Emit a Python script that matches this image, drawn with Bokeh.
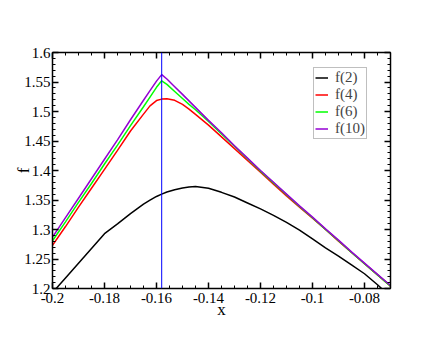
from bokeh.plotting import figure
from bokeh.models import (Range1d, LinearAxis, FixedTicker, CustomJSTickFormatter, Span,
                          Legend, LegendItem, CustomLabelingPolicy)
from bokeh.embed import file_html
from bokeh.resources import INLINE

# ---- data ----
x = [-0.2, -0.195, -0.19, -0.185, -0.18, -0.175, -0.17, -0.165, -0.1625, -0.16,
     -0.158, -0.156, -0.153, -0.15, -0.1475, -0.145, -0.14, -0.135, -0.13, -0.125,
     -0.12, -0.115, -0.11, -0.105, -0.1, -0.095, -0.09, -0.085, -0.08, -0.075, -0.07]

f2 = [1.193, 1.218, 1.243, 1.268, 1.293, 1.3096, 1.327, 1.343, 1.3497, 1.356,
      1.360, 1.3635, 1.3675, 1.3705, 1.372, 1.3728, 1.370, 1.363, 1.355, 1.345,
      1.335, 1.324, 1.312, 1.299, 1.284, 1.269, 1.255, 1.240, 1.225, 1.2064, 1.186]

f4 = [1.273, 1.305, 1.338, 1.370, 1.402, 1.434, 1.467, 1.4955, 1.5095, 1.5185,
      1.521, 1.5215, 1.519, 1.512, 1.504, 1.495, 1.477, 1.457, 1.437, 1.417,
      1.397, 1.377, 1.357, 1.338, 1.319, 1.300, 1.280, 1.261, 1.242, 1.223, 1.204]

f6 = [1.281, 1.313, 1.346, 1.378, 1.411, 1.443, 1.476, 1.508, 1.5245, 1.541,
      1.552, 1.546, 1.534, 1.522, 1.512, 1.503, 1.483, 1.462, 1.441, 1.420,
      1.399, 1.379, 1.359, 1.339, 1.320, 1.300, 1.281, 1.261, 1.242, 1.223, 1.204]

f10 = [1.287, 1.320, 1.353, 1.386, 1.419, 1.452, 1.486, 1.519, 1.5355, 1.5515,
       1.5625, 1.555, 1.542, 1.529, 1.518, 1.507, 1.485, 1.464, 1.442, 1.421,
       1.400, 1.380, 1.360, 1.340, 1.321, 1.301, 1.282, 1.262, 1.243, 1.224, 1.205]

x_line = -0.158

labels = ["f(2)", "f(4)", "f(6)", "f(10)"]
colors = ["#000000", "#ff0000", "#00ff00", "#9400d3"]

x_ticks = [-0.2, -0.18, -0.16, -0.14, -0.12, -0.1, -0.08]
x_minor = [round(-0.2 + 0.005 * k, 4) for k in range(27)]
y_ticks = [1.2, 1.25, 1.3, 1.35, 1.4, 1.45, 1.5, 1.55, 1.6]
y_minor = [round(1.2 + 0.01 * k, 4) for k in range(41)]

FONT = "Liberation Serif"

p = figure(width=432, height=332,
           x_range=Range1d(-0.2, -0.07), y_range=Range1d(1.2, 1.6),
           output_backend="svg", toolbar_location=None,
           min_border_left=52, min_border_right=42,
           min_border_top=52, min_border_bottom=44,
           x_axis_label="x", y_axis_label="f")
p.grid.visible = False
p.outline_line_color = None
p.background_fill_color = "white"
p.border_fill_color = "white"

fmt = CustomJSTickFormatter(code="return Number(tick.toFixed(3)).toString();")

def style(ax):
    ax.axis_line_width = 1.5
    ax.axis_line_color = "#000000"
    ax.major_tick_in = 6
    ax.major_tick_out = 0
    ax.minor_tick_in = 3
    ax.minor_tick_out = 0
    ax.major_tick_line_width = 1.5
    ax.minor_tick_line_width = 1
    ax.major_tick_line_color = "#000000"
    ax.minor_tick_line_color = "#000000"
    ax.major_label_text_font = FONT
    ax.major_label_text_font_size = "15px"
    ax.major_label_text_color = "#000000"
    ax.axis_label_text_font = FONT
    ax.axis_label_text_font_size = "17px"
    ax.axis_label_text_font_style = "normal"
    ax.axis_label_text_color = "#000000"

xa = p.xaxis[0]
ya = p.yaxis[0]
xa.ticker = FixedTicker(ticks=x_ticks, minor_ticks=x_minor)
ya.ticker = FixedTicker(ticks=y_ticks, minor_ticks=y_minor)
xa.formatter = fmt
ya.formatter = fmt
style(xa)
style(ya)
xa.major_label_standoff = 4
xa.axis_label_standoff = -6
ya.major_label_standoff = 2
ya.axis_label_standoff = -12

top = LinearAxis(ticker=FixedTicker(ticks=x_ticks, minor_ticks=x_minor))
right = LinearAxis(ticker=FixedTicker(ticks=y_ticks, minor_ticks=y_minor))
for ax in (top, right):
    style(ax)
    ax.formatter = CustomJSTickFormatter(code="return '';")
    ax.major_label_policy = CustomLabelingPolicy(code="return [];")
    ax.major_label_standoff = 0
p.add_layout(top, "above")
p.add_layout(right, "right")

renderers = []
for series, c in zip([f2, f4, f6, f10], colors):
    r = p.line(x, series, line_color=c, line_width=1.5)
    renderers.append(r)

p.add_layout(Span(location=x_line, dimension="height", line_color="#0000ff", line_width=1))

legend = Legend(items=[LegendItem(label=l, renderers=[r]) for l, r in zip(labels, renderers)],
                location=(261, 149))
legend.label_text_font = FONT
legend.label_text_font_size = "15px"
legend.glyph_width = 13
legend.glyph_height = 15
legend.label_height = 15
legend.spacing = -2
legend.padding = 1
legend.margin = 0
legend.label_standoff = 7
legend.border_line_color = "#808080"
legend.border_line_width = 1
legend.background_fill_alpha = 1
p.add_layout(legend)

open("out.html", "w").write(file_html(p, INLINE))
